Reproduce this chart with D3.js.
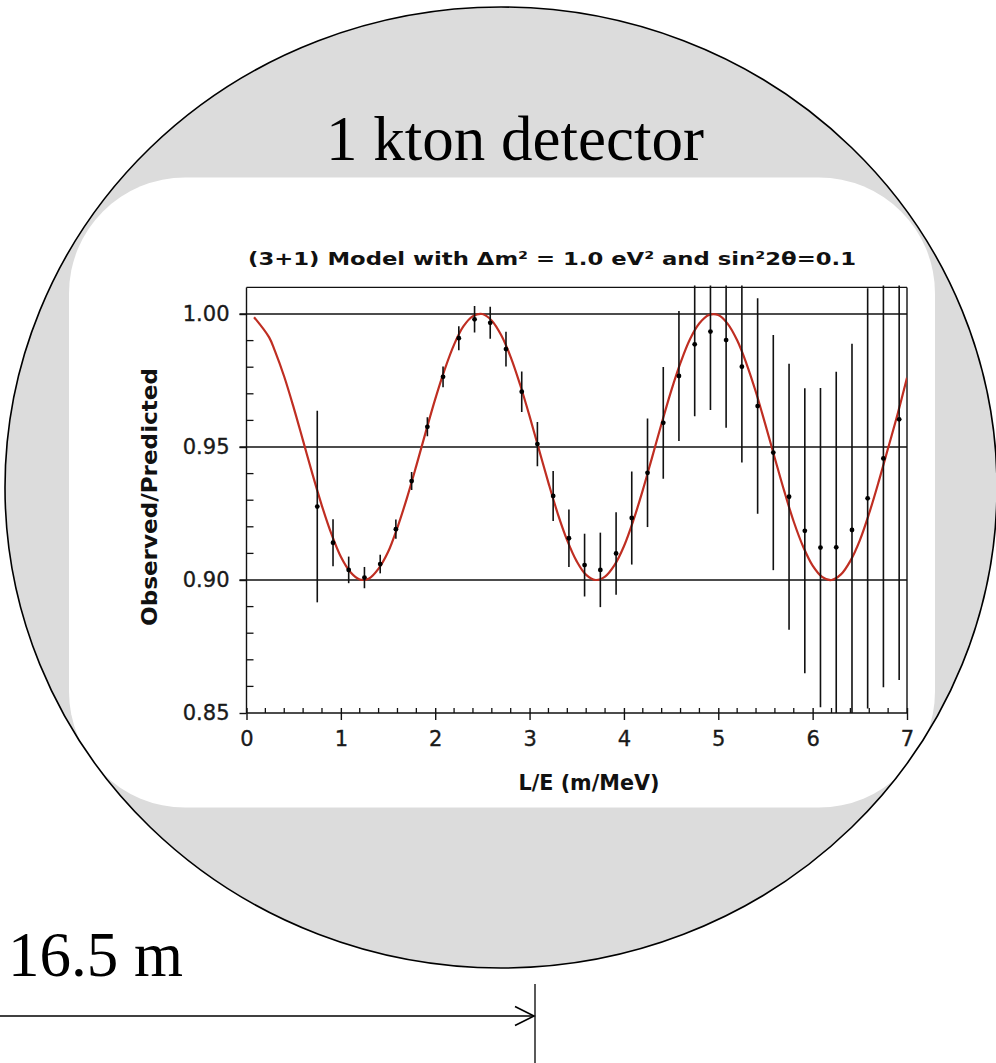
<!DOCTYPE html>
<html>
<head>
<meta charset="utf-8">
<script src="https://cdn.jsdelivr.net/npm/d3@7"></script>
<style>
  html, body { margin: 0; padding: 0; background: #ffffff; }
  svg { display: block; }
</style>
</head>
<body>
<svg id="chart" width="996" height="1063"></svg>
<script>
// ---------- data ----------
const curveX = [0.08,0.24,0.3,0.4,0.5,0.6,0.7,0.8,0.9,1.0,1.1,1.2,1.3,1.4,1.5,1.6,1.7,1.8,1.9,2.0,
  2.1,2.2,2.3,2.4,2.5,2.6,2.7,2.8,2.9,3.0,3.1,3.2,3.3,3.4,3.5,3.6,3.7,3.8,3.9,4.0,
  4.1,4.2,4.3,4.4,4.5,4.6,4.7,4.8,4.9,5.0,5.1,5.2,5.3,5.4,5.5,5.6,5.7,5.8,5.9,6.0,
  6.1,6.2,6.3,6.4,6.5,6.6,6.7,6.8,6.9,7.0];
const curveY = [0.9988,0.9912,0.9862,0.9764,0.9648,0.9523,0.9397,0.9278,0.9173,0.9087,0.9030,0.9002,0.9006,0.9043,0.9105,0.9198,0.9308,0.9430,0.9557,0.9680,
  0.9791,0.9885,0.9954,0.9992,1.0000,0.9975,0.9920,0.9838,0.9734,0.9616,0.9490,0.9365,0.9248,0.9148,0.9070,0.9019,0.9000,0.9013,0.9056,0.9127,
  0.9224,0.9338,0.9463,0.9589,0.9710,0.9817,0.9905,0.9965,0.9996,0.9996,0.9963,0.9901,0.9812,0.9705,0.9583,0.9457,0.9333,0.9219,0.9125,0.9054,
  0.9012,0.9000,0.9021,0.9072,0.9149,0.9252,0.9370,0.9496,0.9623,0.9760];

const dataX = [0.75,0.917,1.083,1.25,1.417,1.583,1.75,1.917,2.083,2.25,2.417,2.583,2.75,2.917,3.083,3.25,3.417,
  3.583,3.75,3.917,4.083,4.25,4.417,4.583,4.75,4.917,5.083,5.25,5.417,5.583,5.75,5.917,6.083,6.25,6.417,6.583,6.75,6.917];
const dataY = [0.9276,0.9140,0.9038,0.9009,0.9060,0.9191,0.9372,0.9576,0.9764,0.9909,0.9980,0.9967,0.9868,0.9708,0.9511,0.9316,0.9157,
  0.9056,0.9038,0.9100,0.9233,0.9403,0.9591,0.9767,0.9886,0.9934,0.9902,0.9802,0.9654,0.9479,0.9313,0.9185,0.9122,0.9123,0.9188,0.9307,0.9457,0.9604];
const dataErr = [0.0360,0.0088,0.0050,0.0040,0.0035,0.0036,0.0034,0.0036,0.0039,0.0045,0.0050,0.0060,0.0065,0.0076,0.0083,0.0094,0.0108,
  0.0118,0.0140,0.0155,0.0175,0.0204,0.0210,0.0244,0.0270,0.0295,0.0330,0.0360,0.0405,0.0442,0.0500,0.0536,0.0600,0.0660,0.0700,0.0790,0.0860,0.0980];

const xTicks = [0,1,2,3,4,5,6,7];
const xMinorTicks = d3.range(0, 35).map(i => i * 0.2).filter(v => Math.abs(v - Math.round(v)) > 1e-6);
const yTicks = [0.85,0.90,0.95,1.00];
const yTickLabels = ["0.85","0.90","0.95","1.00"];
const yMinorTicks = [0.86,0.87,0.88,0.89,0.91,0.92,0.93,0.94,0.96,0.97,0.98,0.99];
const gridLines = [0.90,0.95,1.00];

const titleText = "(3+1) Model with \u0394m\u00B2 = 1.0 eV\u00B2 and sin\u00B22\u03B8=0.1";
const xLabel = "L/E (m/MeV)";
const yLabel = "Observed/Predicted";
const detectorLabel = "1 kton detector";
const distanceLabel = "16.5 m";

// ---------- drawing ----------
const svg = d3.select("#chart");
const defs = svg.append("defs");

const ell = { cx: 501, cy: 487.5, rx: 496, ry: 480.5 };

defs.append("clipPath").attr("id", "ellclip")
  .append("ellipse")
  .attr("cx", ell.cx).attr("cy", ell.cy).attr("rx", ell.rx).attr("ry", ell.ry);

// background ellipse fill (detector)
svg.append("ellipse")
  .attr("cx", ell.cx).attr("cy", ell.cy).attr("rx", ell.rx).attr("ry", ell.ry)
  .attr("fill", "#dcdcdc");

// white panel, clipped to the detector
svg.append("rect")
  .attr("clip-path", "url(#ellclip)")
  .attr("x", 69).attr("y", 177.5).attr("width", 866).attr("height", 630)
  .attr("rx", 116).attr("ry", 116)
  .attr("fill", "#ffffff");

// ellipse outline on top
svg.append("ellipse")
  .attr("cx", ell.cx).attr("cy", ell.cy).attr("rx", ell.rx).attr("ry", ell.ry)
  .attr("fill", "none").attr("stroke", "#000").attr("stroke-width", 1.6);

// detector label
svg.append("text")
  .attr("x", 515).attr("y", 160)
  .attr("text-anchor", "middle")
  .attr("font-family", "'Liberation Serif', 'Times New Roman', serif")
  .attr("font-size", 63)
  .attr("fill", "#000")
  .text(detectorLabel);

// distance label and arrow
svg.append("text")
  .attr("x", 8).attr("y", 976)
  .attr("font-family", "'Liberation Serif', 'Times New Roman', serif")
  .attr("font-size", 63)
  .attr("fill", "#000")
  .text(distanceLabel);

svg.append("line")
  .attr("x1", 0).attr("x2", 533).attr("y1", 1016).attr("y2", 1016)
  .attr("stroke", "#000").attr("stroke-width", 1.6);
svg.append("path")
  .attr("d", "M515,1006.5 L534,1016 L515,1025.5")
  .attr("fill", "none").attr("stroke", "#000").attr("stroke-width", 1.6);
svg.append("line")
  .attr("x1", 535).attr("x2", 535).attr("y1", 984).attr("y2", 1063)
  .attr("stroke", "#000").attr("stroke-width", 1.3);

// ---------- chart ----------
const x = d3.scaleLinear().domain([0, 7]).range([246.5, 907]);
const y = d3.scaleLinear().domain([0.85, 1.01]).range([713, 287.4]);

const g = svg.append("g");

defs.append("clipPath").attr("id", "plotclip")
  .append("rect")
  .attr("x", x(0)).attr("y", y(1.01) - 2)
  .attr("width", x(7) - x(0)).attr("height", y(0.85) - y(1.01) + 2);

const ink = "#111";
const tickFont = "'DejaVu Sans', Verdana, sans-serif";

// gridlines (extend left as major ticks)
g.selectAll("line.grid").data(gridLines).enter().append("line")
  .attr("class", "grid")
  .attr("x1", x(0) - 7).attr("x2", x(7))
  .attr("y1", d => y(d)).attr("y2", d => y(d))
  .attr("stroke", ink).attr("stroke-width", 1.4);

// frame top and right
g.append("line").attr("x1", x(0)).attr("x2", x(7)).attr("y1", y(1.01)).attr("y2", y(1.01))
  .attr("stroke", ink).attr("stroke-width", 1.4);
g.append("line").attr("x1", x(7)).attr("x2", x(7)).attr("y1", y(1.01)).attr("y2", y(0.85))
  .attr("stroke", ink).attr("stroke-width", 1.4);

// y axis
const yAxis = d3.axisLeft(y).tickValues(yTicks).tickSize(7).tickSizeOuter(0)
  .tickFormat((d, i) => yTickLabels[i]);
const yAx = g.append("g").attr("transform", `translate(${x(0)},0)`).call(yAxis);
yAx.select(".domain").attr("d", `M0,${y(1.01)}V${y(0.85)}`).attr("stroke", ink).attr("stroke-width", 1.4);
yAx.selectAll(".tick line").attr("stroke", ink).attr("stroke-width", 1.4);
yAx.selectAll(".tick text")
  .attr("x", -17)
  .attr("font-family", tickFont)
  .attr("font-size", 21).attr("fill", "#1a1a1a")
  .attr("stroke", "#1a1a1a").attr("stroke-width", 0.35);
// y minor ticks (inward)
g.selectAll("line.yminor").data(yMinorTicks).enter().append("line")
  .attr("x1", x(0)).attr("x2", x(0) + 7)
  .attr("y1", d => y(d)).attr("y2", d => y(d))
  .attr("stroke", ink).attr("stroke-width", 1.3);

// x axis
const xAxis = d3.axisBottom(x).tickValues(xTicks).tickSize(7).tickSizeOuter(0).tickFormat(d3.format("d"));
const xAx = g.append("g").attr("transform", `translate(0,${y(0.85)})`).call(xAxis);
xAx.select(".domain").attr("d", `M${x(0)},0H${x(7)}`).attr("stroke", ink).attr("stroke-width", 1.4);
xAx.selectAll(".tick line").attr("y1", -5).attr("stroke", ink).attr("stroke-width", 1.4);
xAx.selectAll(".tick text")
  .attr("y", 18)
  .attr("font-family", tickFont)
  .attr("font-size", 21).attr("fill", "#1a1a1a")
  .attr("stroke", "#1a1a1a").attr("stroke-width", 0.35);
// x minor ticks (inward)
g.selectAll("line.xminor").data(xMinorTicks).enter().append("line")
  .attr("x1", d => x(d)).attr("x2", d => x(d))
  .attr("y1", y(0.85)).attr("y2", y(0.85) - 5)
  .attr("stroke", ink).attr("stroke-width", 1.3);

// model curve
const curvePts = curveX.map((v, i) => [v, curveY[i]]);
g.append("path")
  .datum(curvePts)
  .attr("clip-path", "url(#plotclip)")
  .attr("fill", "none")
  .attr("stroke", "#bf2e22")
  .attr("stroke-width", 2.2)
  .attr("d", d3.line().x(d => x(d[0])).y(d => y(d[1])).curve(d3.curveCatmullRom.alpha(0.5)));

// error bars and points
const pts = dataX.map((v, i) => ({ x: v, y: dataY[i], e: dataErr[i] }));
const eb = g.append("g").attr("clip-path", "url(#plotclip)");
eb.selectAll("line.err").data(pts).enter().append("line")
  .attr("x1", d => x(d.x)).attr("x2", d => x(d.x))
  .attr("y1", d => y(d.y + d.e)).attr("y2", d => y(d.y - d.e))
  .attr("stroke", ink).attr("stroke-width", 1.6);
eb.selectAll("circle.pt").data(pts).enter().append("circle")
  .attr("cx", d => x(d.x)).attr("cy", d => y(d.y))
  .attr("r", 2.4).attr("fill", "#000");

// title
svg.append("text")
  .attr("x", 552).attr("y", 265)
  .attr("text-anchor", "middle")
  .attr("font-family", tickFont)
  .attr("font-weight", "bold")
  .attr("font-size", 18)
  .attr("fill", "#111")
  .attr("textLength", 608).attr("lengthAdjust", "spacingAndGlyphs")
  .text(titleText);

// axis labels
svg.append("text")
  .attr("x", 589).attr("y", 790)
  .attr("text-anchor", "middle")
  .attr("font-family", tickFont)
  .attr("font-weight", "bold")
  .attr("font-size", 21)
  .attr("fill", "#111")
  .attr("textLength", 141).attr("lengthAdjust", "spacingAndGlyphs")
  .text(xLabel);

svg.append("text")
  .attr("transform", "translate(157,497) rotate(-90)")
  .attr("text-anchor", "middle")
  .attr("font-family", tickFont)
  .attr("font-weight", "bold")
  .attr("font-size", 21)
  .attr("fill", "#111")
  .attr("textLength", 258).attr("lengthAdjust", "spacingAndGlyphs")
  .text(yLabel);
</script>
</body>
</html>
